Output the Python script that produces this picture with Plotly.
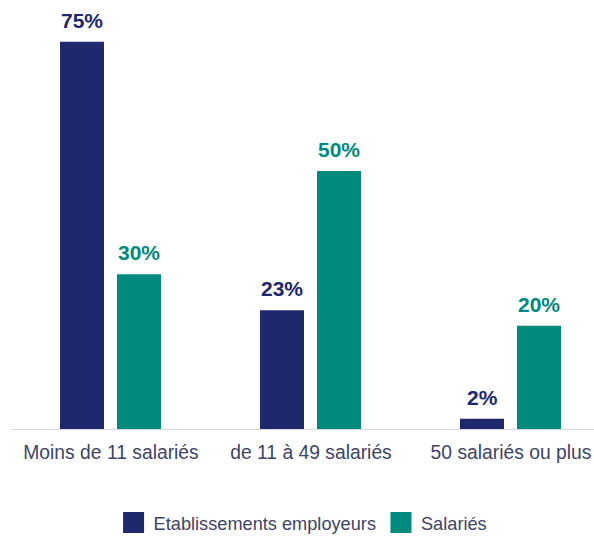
import plotly.graph_objects as go

categories = ["Moins de 11 salariés", "de 11 à 49 salariés", "50 salariés ou plus"]
etablissements = [75, 23, 2]
salaries = [30, 50, 20]
series_names = ["Etablissements employeurs", "Salariés"]

DARK = "#20286D"
TEAL = "#00897D"
TXT = "#3d4466"
BAR_W = 0.22
OFFSETS = [-0.255, 0.03]

fig = go.Figure()
for name, vals, color, off in zip(series_names, [etablissements, salaries], [DARK, TEAL], OFFSETS):
    fig.add_trace(go.Bar(
        x=categories, y=vals, name=name, marker_color=color,
        width=BAR_W, offset=off, marker_line_width=0, showlegend=False,
    ))
    for i, v in enumerate(vals):
        fig.add_annotation(
            x=i + off + BAR_W / 2, y=v, text=f"<b>{v}%</b>", showarrow=False,
            yanchor="bottom", yshift=8,
            font=dict(family="Liberation Sans, Arial", size=21, color=color),
        )

# legend entries (square swatches)
for name, color in zip(series_names, [DARK, TEAL]):
    fig.add_trace(go.Scatter(
        x=[None], y=[None], mode="markers", name=name,
        marker=dict(symbol="square", size=16, color=color,
                    line=dict(width=5, color=color)),
    ))

fig.update_layout(
    width=594, height=536,
    margin=dict(l=11, r=0, t=16, b=107, autoexpand=False),
    paper_bgcolor="white", plot_bgcolor="white",
    barmode="group",
    font=dict(family="Liberation Sans, Arial", color=TXT),
    legend=dict(orientation="h", x=0.501, xanchor="center", y=-0.227, yanchor="middle",
                font=dict(size=18.2, color=TXT), itemwidth=30, traceorder="normal",
                itemsizing="trace"),
    showlegend=True,
)
fig.update_xaxes(
    type="category", range=[-0.5, 2.415], automargin=False,
    showline=True, linecolor="#d9d9d9", linewidth=1,
    ticks="outside", ticklen=6, tickcolor="rgba(0,0,0,0)",
    tickfont=dict(size=19.3, color=TXT),
    showgrid=False,
)
fig.update_yaxes(range=[0, 80], visible=False, showgrid=False, automargin=False)

fig.write_html(
    "out.html",
    config={"displayModeBar": False},
    post_script="document.body.style.margin='0';document.body.style.overflow='hidden';",
)
